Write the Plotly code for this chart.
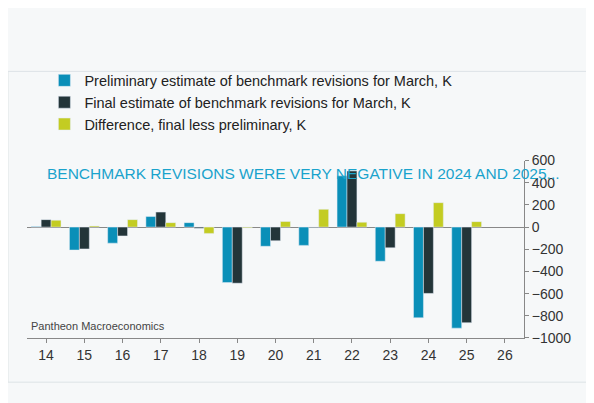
import plotly.graph_objects as go

years = ["14","15","16","17","18","19","20","21","22","23","24","25","26"]
prelim = [5,-207,-145,95,40,-500,-173,-165,462,-308,-818,-911,None]
final = [67,-197,-80,135,-10,-506,-123,-5,506,-187,-598,-862,None]
diff = [62,10,67,40,-57,-6,50,160,44,121,220,49,None]

fig = go.Figure()
fig.add_bar(x=years, y=prelim, name="Preliminary estimate of benchmark revisions for March, K", marker_color="#0a8fb8")
fig.add_bar(x=years, y=final, name="Final estimate of benchmark revisions for March, K", marker_color="#233539")
fig.add_bar(x=years, y=diff, name="Difference, final less preliminary, K", marker_color="#c3cc22")

fig.update_layout(
    width=594, height=403, barmode="group", bargap=0.22, bargroupgap=0,
    margin=dict(l=19, r=78, t=117, b=73),
    paper_bgcolor="#f6f8f9", plot_bgcolor="rgba(0,0,0,0)",
    font=dict(family="Liberation Sans, Arial", color="#333"),
    showlegend=True,
    legend=dict(x=0.0, y=1.0, xref="container", yref="container", xanchor="left", yanchor="top",
                bgcolor="rgba(0,0,0,0)", font=dict(size=14.5, color="#222"),
                itemwidth=30, tracegroupgap=0),
    annotations=[
        dict(text="BENCHMARK REVISIONS WERE VERY NEGATIVE IN 2024 AND 2025...", x=22/594, y=1-30/403,
             xref="paper", yref="paper", xanchor="left", yanchor="middle", showarrow=False,
             font=dict(size=15.5, color="#1aa3cc", family="Liberation Sans, Arial")),
        dict(text="Pantheon Macroeconomics", x=2/594, y=8/403, xref="paper", yref="paper",
             xanchor="left", yanchor="bottom", showarrow=False, font=dict(size=11, color="#444")),
    ],
    shapes=[dict(type="rect", xref="paper", yref="paper", x0=-19/497, x1=(594-4-19)/497,
                 y0=-(403-20-330)/213, y1=(330-10)/213, line=dict(color="#dde3e6", width=1),
                 fillcolor="rgba(0,0,0,0)")],
)
fig.update_layout(legend=dict(x=0.035, y=0.86, xref="paper", yref="container"))
fig.update_xaxes(showgrid=False, showline=True, linecolor="#888", ticks="outside", ticklen=4,
                 tickcolor="#888", tickfont=dict(size=14, color="#333"))
fig.update_yaxes(side="right", range=[-1000, 600], dtick=200, showgrid=False, showline=True,
                 linecolor="#888", ticks="outside", ticklen=4, tickcolor="#888",
                 zeroline=True, zerolinecolor="#888", zerolinewidth=1,
                 tickfont=dict(size=14, color="#333"))
fig.write_html("out.html")
